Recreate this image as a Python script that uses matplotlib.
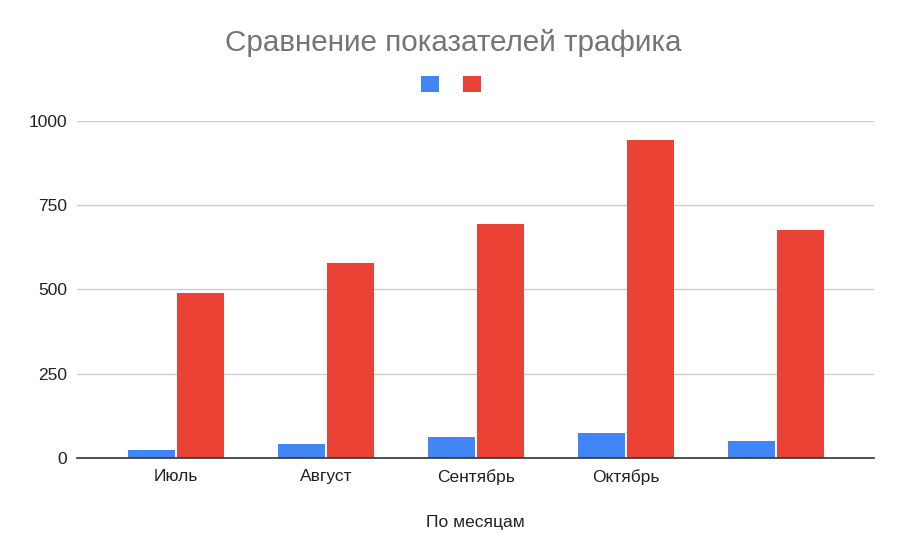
import matplotlib.pyplot as plt
from matplotlib.patches import Patch
import numpy as np

# values
months = ['Июль', 'Август', 'Сентябрь', 'Октябрь', '']
blue_vals = [24, 41, 63, 73, 49]
red_vals = [490, 578, 693, 944, 675]
yticks = [0, 250, 500, 750, 1000]

BLUE = '#4285F4'
RED = '#EA4335'

plt.rcParams['font.family'] = ['Liberation Sans', 'DejaVu Sans']

fig = plt.figure(figsize=(9.07, 5.57), dpi=100)
ax = fig.add_axes([0.0849, 0.1777, 0.8787, 0.6056])

x = np.arange(len(months))
w = 0.313
ax.bar(x - 0.163, blue_vals, width=w, color=BLUE, zorder=3)
ax.bar(x + 0.163, red_vals, width=w, color=RED, zorder=3)

ax.set_xlim(-0.66, 4.653)
ax.set_ylim(0, 1000)
ax.set_yticks(yticks)
ax.set_xticks(x)
ax.set_xticklabels(months)
ax.tick_params(axis='both', length=0, labelsize=12.5, colors='#222222')
ax.tick_params(axis='y', pad=7)
ax.tick_params(axis='x', pad=7.8)

# grid and baseline
ax.grid(axis='y', color='#cccccc', linewidth=1, zorder=0)
for s in ['top', 'right', 'left']:
    ax.spines[s].set_visible(False)
ax.spines['bottom'].set_color('#333333')
ax.spines['bottom'].set_linewidth(1.2)
ax.spines['bottom'].set_zorder(4)

ax.set_xlabel('По месяцам', fontsize=12.5, color='#222222', labelpad=21.5)

fig.text(0.5, 0.923, 'Сравнение показателей трафика', ha='center', va='center',
         fontsize=21.3, color='#757575')

handles = [Patch(facecolor=BLUE), Patch(facecolor=RED)]
fig.legend(handles, ['', ''], loc='center', bbox_to_anchor=(0.497, 0.847), ncol=2,
           frameon=False, fontsize=13, handlelength=1, handleheight=1,
           handletextpad=0, columnspacing=1.3, borderpad=0)

fig.savefig('out.png', dpi=100)
